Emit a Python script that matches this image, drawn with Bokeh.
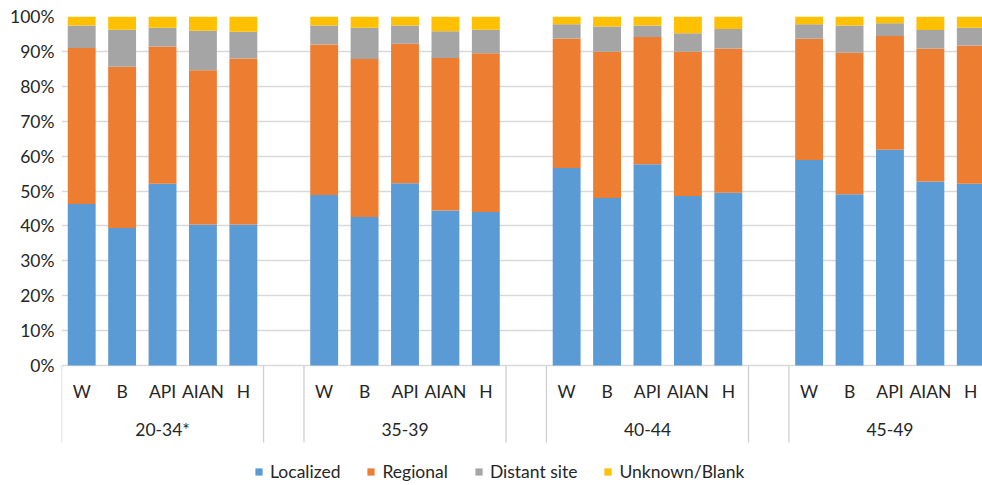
from bokeh.plotting import figure
from bokeh.models import Range1d, FixedTicker, PrintfTickFormatter, ColumnDataSource, Legend, LegendItem
from bokeh.core.properties import value
from bokeh.embed import file_html
from bokeh.resources import INLINE

# ---------------- data ----------------
groups = ["20-34*", "35-39", "40-44", "45-49"]
races = ["W", "B", "API", "AIAN", "H"]
stages = ["Localized", "Regional", "Distant site", "Unknown/Blank"]

localized = [46.3, 39.4, 52.1, 40.4, 40.4,
             48.9, 42.6, 52.2, 44.4, 44.0,
             56.6, 48.0, 57.7, 48.6, 49.5,
             58.9, 49.1, 61.8, 52.7, 52.1]
regional = [44.7, 46.2, 39.3, 44.2, 47.6,
            43.1, 45.2, 40.0, 43.7, 45.5,
            37.1, 41.9, 36.4, 41.3, 41.3,
            34.7, 40.5, 32.6, 38.1, 39.6]
distant = [6.4, 10.6, 5.4, 11.3, 7.6,
           5.4, 9.0, 5.2, 7.7, 6.7,
           4.1, 7.2, 3.3, 5.3, 5.6,
           4.2, 7.8, 3.7, 5.3, 5.1]
unknown = [2.6, 3.8, 3.2, 4.1, 4.4,
           2.6, 3.2, 2.6, 4.2, 3.8,
           2.2, 2.9, 2.6, 4.8, 3.6,
           2.2, 2.6, 1.9, 3.9, 3.2]

y_ticks = [0, 10, 20, 30, 40, 50, 60, 70, 80, 90, 100]

# ---------------- style ----------------
colors = ["#5B9BD5", "#ED7D31", "#A5A5A5", "#FFC000"]
FONT = "Lato"
TXT = "#262626"
GRID = "#D9D9D9"
SEP = "#CFCFCF"
FS = "17.5px"

slot = len(races) + 1  # one empty slot between groups
xs = [g * slot + r for g in range(len(groups)) for r in range(len(races))]
race_labels = [races[r] for g in range(len(groups)) for r in range(len(races))]

src = ColumnDataSource(dict(x=xs, Localized=localized, Regional=regional,
                            **{"Distant site": distant, "Unknown/Blank": unknown}))

Y_BOTTOM = -34.35
p = figure(width=982, height=485, output_backend="svg", toolbar_location=None,
           x_range=Range1d(-0.5, 22.29), y_range=Range1d(Y_BOTTOM, 100),
           x_axis_location=None, min_border_left=61, min_border_right=0,
           min_border_top=16, min_border_bottom=0)
p.outline_line_color = None
p.xgrid.visible = False
p.ygrid.ticker = FixedTicker(ticks=y_ticks)
p.ygrid.grid_line_color = GRID
p.ygrid.grid_line_width = 1.3

yax = p.yaxis[0]
yax.ticker = FixedTicker(ticks=y_ticks)
yax.formatter = PrintfTickFormatter(format="%d%%")
yax.axis_line_color = None
yax.major_tick_line_color = None
yax.minor_tick_line_color = None
yax.major_tick_out = 0
yax.major_tick_in = 0
yax.major_label_standoff = 7
yax.major_label_text_font = FONT
yax.major_label_text_font_size = FS
yax.major_label_text_color = TXT

rs = p.vbar_stack(stages, x="x", width=0.69, source=src, color=colors, line_color=None)

# category separators (multi-level axis look)
SEP_DEPTH = -22.06
bounds = []
for g in range(len(groups)):
    bounds += [g * slot - 0.5, g * slot + len(races) - 0.5]
p.segment(x0=bounds, y0=[0] * len(bounds), x1=bounds, y1=[SEP_DEPTH] * len(bounds),
          line_color=SEP, line_width=1.3)

p.text(x=xs, y=[-7.45] * len(xs), text=race_labels, text_font=value(FONT),
       text_font_size=FS, text_color=TXT, text_align="center", text_baseline="middle")
gx = [g * slot + (len(races) - 1) / 2 for g in range(len(groups))]
p.text(x=gx, y=[-18.33] * len(gx), text=groups, text_font=value(FONT),
       text_font_size=FS, text_color=TXT, text_align="center", text_baseline="middle")

legend = Legend(items=[LegendItem(label=s, renderers=[r]) for s, r in zip(stages, rs)],
                location=(193, 3), orientation="horizontal",
                glyph_width=9, glyph_height=9, label_standoff=7, spacing=26,
                padding=0, margin=0, label_text_font=FONT, label_text_font_size=FS,
                label_text_color=TXT, border_line_color=None, background_fill_alpha=0,
                label_height=17)
p.add_layout(legend)

open("out.html", "w").write(file_html(p, INLINE))
